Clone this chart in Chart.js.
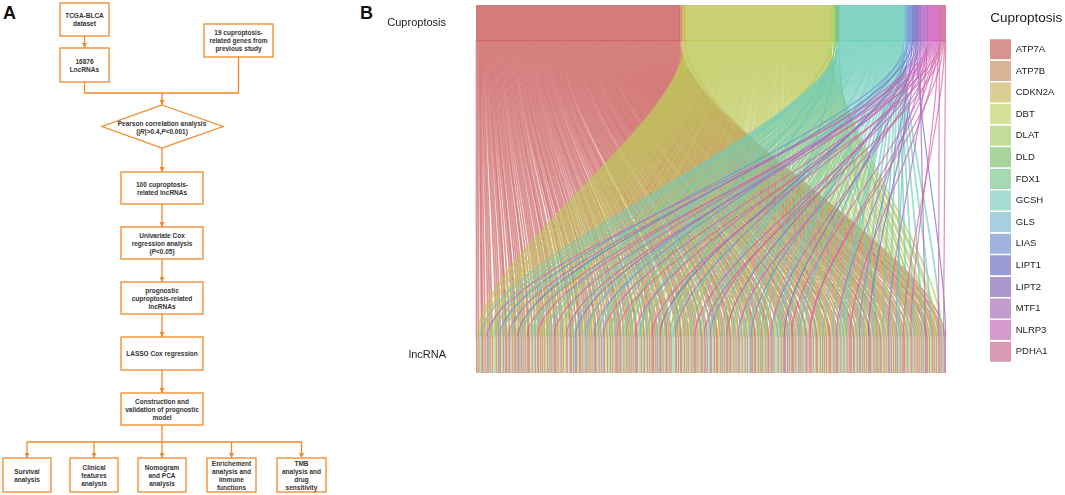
<!DOCTYPE html>
<html>
<head>
<meta charset="utf-8">
<script src="https://cdn.jsdelivr.net/npm/chart.js@4.4.0/dist/chart.umd.min.js"></script>
<style>
html, body { margin: 0; padding: 0; background: #fff; overflow: hidden; }
body { width: 1065px; height: 495px; position: relative; font-family: "Liberation Sans", Arial, sans-serif; }
#flow { position: absolute; left: 0; top: 0; }
#flow text { font-size: 6.5px; font-weight: bold; fill: #333; }
#wrap { position: absolute; left: 370px; top: 0; width: 695px; height: 495px; }
.tag { position: absolute; font-weight: bold; font-size: 18px; line-height: 18px; color: #111; }
</style>
</head>
<body>
<div class="tag" style="left:3px;top:4px">A</div>
<div class="tag" style="left:360px;top:4px">B</div>
<svg id="flow" width="370" height="495"></svg>
<div id="wrap"><canvas id="sankey"></canvas></div>
<script>
// ---- data: panel B (alluvial of cuproptosis genes -> lncRNAs) ----
var genes = ['ATP7A', 'ATP7B', 'CDKN2A', 'DBT', 'DLAT', 'DLD', 'FDX1', 'GCSH',
             'GLS', 'LIAS', 'LIPT1', 'LIPT2', 'MTF1', 'NLRP3', 'PDHA1'];
var geneCodes = 'ABCDEFGHIJKLMNO';   // one letter per gene, same order as genes
var axisLabels = ['Cuproptosis', 'lncRNA'];

// lncRNAs along the lower axis, left to right; each string lists the genes it is paired with
var lncRNAs = [
  'AD','ADH','A','AD','ADN','AH','AD','AD','DH','AD','AJ','ADH','AD','A','ADM',
  'ADH','AD','A','ADK','AD','AH','AD','ADO','A','ADH','AD','H','ADN','AD','AE',
  'AD','ADH','AD','AH','ADM','A','AD','ADH','AC','AD','DN','ADH','A','AD','AHL',
  'ADH','A','AD','ADI','AH','AD','AD','ADJ','A','ADH','AD','AHN','AD','D','ADH',
  'AD','ADH','AO','AD','A','ADH','ADF','AD','AH','AD','ADM','A','ADH','H','ADB',
  'ADH','AD','ADN','A','AD','AH','ADK','AD','ADH','A','AD','AG','ADH','DJ','AD',
  'AD','A','ADH','AD','AE','ADH','AD','AN','AD','ADH','A','ADO','AH','AD','HM',
  'ADH','AD','A','ADC','AH','AD','ADL','AD','A','ADH','AD','ADN','AH','D','ADH',
  'AD','ADH','AJ','AD','A','ADH','AD','AF','ADH','AD','A','ADM','AH','AD','DH',
  'ADH','AD','AK','AD','AH','ADN','A','AD','ADH','AI','AD','ADH','A','ADO','N',
  'AD','ADH','A','ADE','AD','AH','AD','ADB','A','ADH','AD','AM','ADH','AD','H',
  'ADH','AD','AN','AD','A','ADH','ADJ','AD','AH','AD','ADK','A','ADH','AD','AG',
  'AD','A','ADH','AD','ADM','AH','AD','AD','AI','ADH','AD','AO','ADH','AD','DN',
  'ADH','AD','AE','AD','AH','ADL','A','AD','ADH','AC','AD','ADN','AH','ADO','AK'
];

// ---- styles ----
var flowRGB = [[205,100,100],[205,140,95],[200,175,80],[190,200,90],[160,205,95],[115,190,110],
               [105,195,145],[110,205,185],[105,180,210],[110,145,215],[115,110,200],[150,110,195],
               [185,105,195],[210,95,185],[210,105,150]];
var legendColors = ['#d69493','#d8b496','#dccf95','#d7e19a','#c3dd9b','#a6d49b','#a4d9b1','#a8dbd1',
                    '#a6cfe0','#a0b3df','#9a9bd3','#ab97cd','#c49bcd','#d69bcd','#d99bb3'];
function rgba(c, a) { return 'rgba(' + c[0] + ',' + c[1] + ',' + c[2] + ',' + a + ')'; }

// per gene: positions of its links on the lower axis (in lncRNA order)
var lowLinks = genes.map(function () { return []; });
var pairs = [];
lncRNAs.forEach(function (s) {
    s.split('').forEach(function (ch) {
        var gi = geneCodes.indexOf(ch);
        lowLinks[gi].push(pairs.length);
        pairs.push(gi);
    });
});
var totals = lowLinks.map(function (a) { return a.length; });
var grandTotal = pairs.length;

// upper stratum: one stacked segment per gene; lower stratum: one per lncRNA-gene pair
var datasets = [];
genes.forEach(function (g, i) {
    datasets.push({ label: g, data: [{ x: totals[i], y: 0 }], backgroundColor: rgba(flowRGB[i], 0.85) });
});
pairs.forEach(function (gi) {
    datasets.push({ label: genes[gi], data: [{ x: 1, y: 1 }], backgroundColor: legendColors[gi] });
});
datasets.forEach(function (d) { d.stack = 's'; d.barThickness = 36; d.borderWidth = 0; });

// flows between the two strata, one thread per pair
var flowPlugin = {
    id: 'flows',
    beforeDatasetsDraw: function (chart) {
        var ctx = chart.ctx, xs = chart.scales.x, ys = chart.scales.y;
        var y0 = ys.getPixelForValue(0) + 17, y1 = ys.getPixelForValue(1) - 17;
        var h = y1 - y0, bend = 0.28;
        var unit = xs.getPixelForValue(1) - xs.getPixelForValue(0);
        ctx.save();
        var topPos = 0;
        for (var i = 0; i < genes.length; i++) {
            var big = totals[i] > 50;
            ctx.lineWidth = unit * (big ? 1.7 : 1.2);
            ctx.strokeStyle = rgba(flowRGB[i], big ? 0.68 : 0.72);
            lowLinks[i].forEach(function (b, n) {
                var xt = xs.getPixelForValue(topPos + n + 0.5);
                var xb = xs.getPixelForValue(b + 0.5);
                ctx.beginPath();
                ctx.moveTo(xt, y0);
                ctx.bezierCurveTo(xt, y0 + h * bend, xb, y1 - h * bend, xb, y1);
                ctx.stroke();
            });
            topPos += totals[i];
        }
        ctx.restore();
    }
};

// put the legend where the reference has it
var legendPlace = {
    id: 'legendPlace',
    afterLayout: function (chart) {
        var lg = chart.legend;
        var dx = 618.4 - lg.left;
        lg.left += dx; lg.right += dx;
    }
};

Chart.defaults.font.family = '"Liberation Sans", Arial, sans-serif';

new Chart(document.getElementById('sankey'), {
    type: 'bar',
    data: { datasets: datasets },
    plugins: [flowPlugin, legendPlace],
    options: {
        indexAxis: 'y',
        responsive: true,
        maintainAspectRatio: false,
        animation: false,
        events: [],
        layout: { padding: { top: 5, bottom: 122, left: 0, right: 43 } },
        scales: {
            x: { type: 'linear', stacked: true, min: 0, max: grandTotal, display: false },
            y: {
                type: 'linear', reverse: true, min: -0.0542, max: 1.0542, offset: false,
                grid: { display: false, drawTicks: false },
                border: { display: false },
                afterBuildTicks: function (s) { s.ticks = [{ value: 0 }, { value: 1 }]; },
                afterFit: function (s) { s.width = 106; s.paddingTop = 0; s.paddingBottom = 0; },
                ticks: {
                    padding: 30, color: '#222', font: { size: 11 },
                    callback: function (v) { return axisLabels[v]; }
                }
            }
        },
        plugins: {
            tooltip: { enabled: false },
            legend: {
                position: 'right',
                align: 'start',
                title: {
                    display: true, text: 'Cuproptosis', color: '#222',
                    font: { size: 13.5 }, padding: { top: 6.25, bottom: 10.25 }
                },
                labels: {
                    boxWidth: 21, boxHeight: 20, padding: 1.6, color: '#222', font: { size: 9.5 },
                    generateLabels: function () {
                        return genes.map(function (g, i) {
                            return { text: g, fillStyle: legendColors[i], strokeStyle: legendColors[i],
                                     lineWidth: 0, hidden: false, datasetIndex: i };
                        });
                    }
                }
            }
        }
    }
});

// ---- panel A: workflow diagram ----
var ORANGE = '#f0892a';
var svg = document.getElementById('flow');
var NS = 'http://www.w3.org/2000/svg';
function el(tag, attrs, html) {
    var e = document.createElementNS(NS, tag);
    for (var a in attrs) e.setAttribute(a, attrs[a]);
    if (html) e.innerHTML = html;
    svg.appendChild(e);
    return e;
}
function label(cx, cy, lines) {
    lines.forEach(function (t, i) {
        el('text', { x: cx, y: cy + (i - (lines.length - 1) / 2) * 8, 'text-anchor': 'middle', 'dominant-baseline': 'central' }, t);
    });
}
var it = function (s) { return '<tspan font-style="italic">' + s + '</tspan>'; };

el('defs', {}, '<marker id="ah" viewBox="0 0 6 6" refX="6" refY="3" markerWidth="5" markerHeight="5" markerUnits="userSpaceOnUse" orient="auto"><path d="M0,0 L6,3 L0,6 z" fill="' + ORANGE + '"/></marker>');

function arrow(x1, y1, x2, y2) {
    el('line', { x1: x1, y1: y1, x2: x2, y2: y2, stroke: ORANGE, 'stroke-width': 1.3, 'marker-end': 'url(#ah)' });
}
function path(pts) {
    el('polyline', { points: pts, fill: 'none', stroke: ORANGE, 'stroke-width': 1.3 });
}

arrow(84.5, 36, 84.5, 48);
path('84.5,82 84.5,93 238.5,93 238.5,57');
arrow(162, 93, 162, 105);
arrow(162, 148, 162, 172);
arrow(162, 204, 162, 227);
arrow(162, 259, 162, 282);
arrow(162, 314, 162, 337);
arrow(162, 370, 162, 393);
path('162,425 162,442');
path('27,442 301.5,442');
[27, 94, 162, 231.5, 301.5].forEach(function (x) { arrow(x, 442, x, 458); });

var boxes = [
    [60, 3, 49, 33, ['TCGA-BLCA', 'dataset']],
    [60, 48, 49, 34, ['16876', 'LncRNAs']],
    [204, 24, 69, 33, ['19 cuproptosis-', 'related genes from', 'previous study']],
    [121, 172, 82, 32, ['100 cuproptosis-', 'related lncRNAs']],
    [121, 227, 82, 32, ['Univariate Cox', 'regression analysis', '(' + it('P') + '&lt;0.05)']],
    [121, 282, 82, 32, ['prognostic', 'cuproptosis-related', 'lncRNAs']],
    [121, 337, 82, 33, ['LASSO Cox regression']],
    [121, 393, 82, 32, ['Construction and', 'validation of prognostic', 'model']],
    [3, 458, 48, 34, ['Survival', 'analysis']],
    [70, 458, 48, 34, ['Clinical', 'features', 'analysis']],
    [138, 458, 48, 34, ['Nomogram', 'and PCA', 'analysis']],
    [207, 458, 49, 34, ['Enrichement', 'analysis and', 'Immune', 'functions']],
    [277, 458, 49, 34, ['TMB', 'analysis and', 'drug', 'sensitivity']]
];
boxes.forEach(function (b) {
    el('rect', { x: b[0], y: b[1], width: b[2], height: b[3], fill: '#fff', stroke: ORANGE, 'stroke-width': 1.3 });
    label(b[0] + b[2] / 2, b[1] + b[3] / 2, b[4]);
});

el('polygon', { points: '162,105 223,126.5 162,148 102,126.5', fill: '#fff', stroke: ORANGE, 'stroke-width': 1.3 });
label(162, 127, ['Pearson correlation analysis', '(|' + it('R') + '|&gt;0.4,' + it('P') + '&lt;0.001)']);
</script>
</body>
</html>
